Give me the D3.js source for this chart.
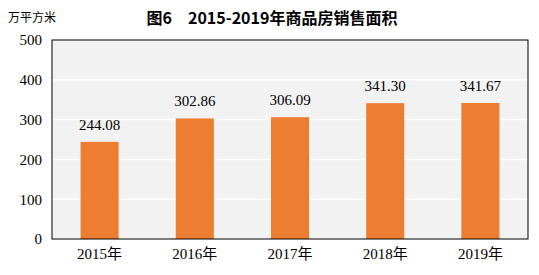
<!DOCTYPE html>
<html>
<head>
<meta charset="utf-8">
<script src="https://cdn.jsdelivr.net/npm/d3@7"></script>
<style>
  body { margin: 0; background: #fff; }
</style>
</head>
<body>
<div id="chart"></div>
<script>
var years = ["2015年", "2016年", "2017年", "2018年", "2019年"];
var area = [244.08, 302.86, 306.09, 341.30, 341.67];
var yTicks = [0, 100, 200, 300, 400, 500];

var margin = { top: 40, right: 11, bottom: 36, left: 52 },
    width = 539 - margin.left - margin.right,
    height = 275 - margin.top - margin.bottom;

var svg = d3.select("#chart").append("svg")
    .attr("width", 539)
    .attr("height", 275);

svg.append("text")
    .attr("x", 8).attr("y", 22)
    .style("font-family", "'Noto Sans CJK SC', sans-serif")
    .style("font-size", "12px")
    .text("万平方米");

svg.append("text")
    .attr("x", 272).attr("y", 24)
    .attr("text-anchor", "middle")
    .style("font-family", "'Noto Sans CJK SC', sans-serif")
    .style("font-size", "16px")
    .style("font-weight", "bold")
    .text("图6　2015-2019年商品房销售面积");

var g = svg.append("g")
    .attr("transform", "translate(" + margin.left + "," + margin.top + ")");

var x = d3.scaleBand().domain(years).range([0, width]).paddingInner(0.6).paddingOuter(0.3);
var y = d3.scaleLinear().domain([0, 500]).range([height, 0]);

g.append("rect")
    .attr("width", width).attr("height", height)
    .attr("fill", "#f2f2f2");

g.selectAll(".grid").data(yTicks.slice(1, -1)).enter().append("line")
    .attr("x1", 0).attr("x2", width)
    .attr("y1", function(d) { return y(d); })
    .attr("y2", function(d) { return y(d); })
    .attr("stroke", "#fff").attr("stroke-width", 1.5);

g.selectAll(".bar").data(area).enter().append("rect")
    .attr("x", function(d, i) { return x(years[i]); })
    .attr("y", function(d) { return y(d); })
    .attr("width", x.bandwidth())
    .attr("height", function(d) { return height - y(d); })
    .attr("fill", "#ed7d31");

g.selectAll(".val").data(area).enter().append("text")
    .attr("x", function(d, i) { return x(years[i]) + x.bandwidth() / 2; })
    .attr("y", function(d) { return y(d) - 12; })
    .attr("text-anchor", "middle")
    .style("font-family", "'Liberation Serif', serif")
    .style("font-size", "15px")
    .text(function(d) { return d.toFixed(2); });

g.append("rect")
    .attr("width", width).attr("height", height)
    .attr("fill", "none").attr("stroke", "#000").attr("stroke-width", 1);

// axes
var yAxis = g.append("g")
    .call(d3.axisLeft(y).tickValues(yTicks).tickSize(0).tickPadding(10));
yAxis.select(".domain").remove();
yAxis.selectAll("text")
    .style("font-family", "'Liberation Serif', serif")
    .style("font-size", "15px")
    .attr("fill", "#000");

var xAxis = g.append("g")
    .attr("transform", "translate(0," + height + ")")
    .call(d3.axisBottom(x).tickSize(0).tickPadding(9));
xAxis.select(".domain").remove();
xAxis.selectAll("text")
    .style("font-family", "'Liberation Serif', 'Noto Sans CJK SC', serif")
    .style("font-size", "15px")
    .attr("fill", "#000");
</script>
</body>
</html>
